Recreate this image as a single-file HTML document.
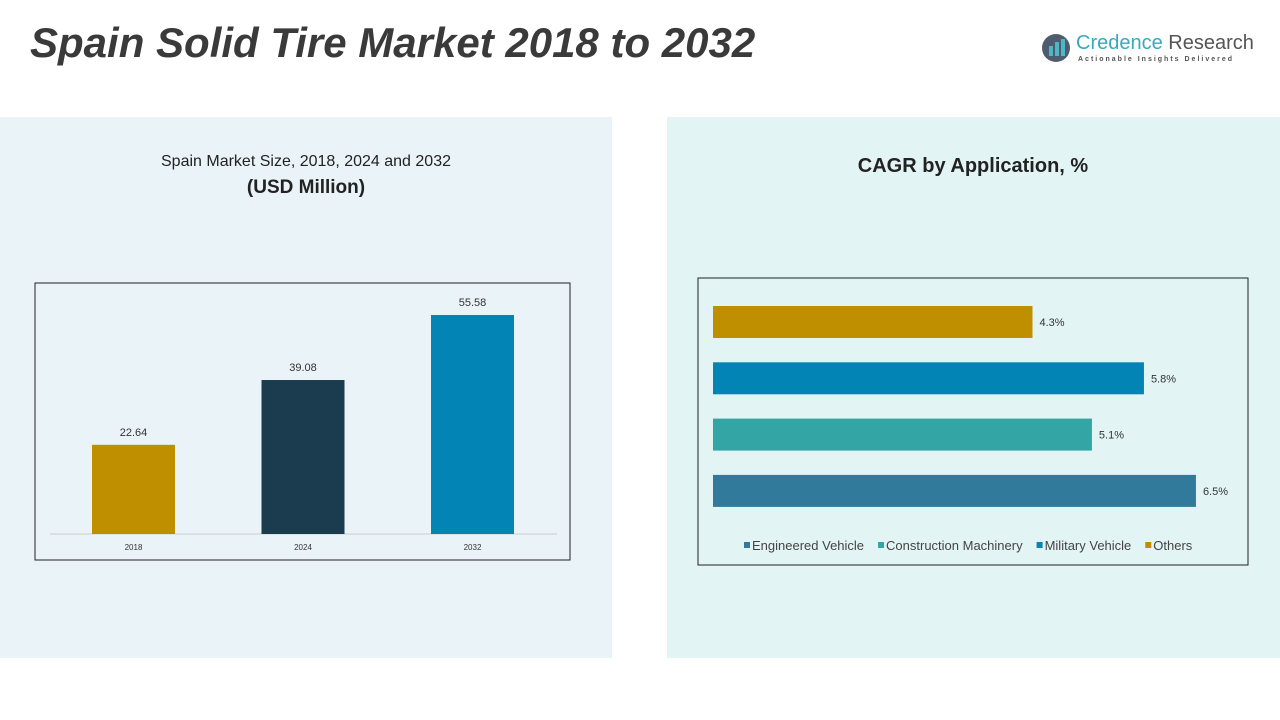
<!DOCTYPE html>
<html><head><meta charset="utf-8"><style>
body{margin:0;width:1280px;height:720px;background:#fff;position:relative;overflow:hidden;font-family:"Liberation Sans",sans-serif}
.abs{position:absolute}
</style></head><body>
<div class="abs" style="left:30px;top:19px;font-size:42px;font-weight:bold;font-style:italic;color:#3a3a3a">Spain Solid Tire Market 2018 to 2032</div>
<div class="abs" style="left:1040px;top:32px;width:215px;height:36px">
 <svg width="32" height="32" style="position:absolute;left:0;top:0"><circle cx="16" cy="16" r="14" fill="#4d5d6e"/><rect x="9" y="14" width="4" height="10" fill="#4fb6c8"/><rect x="15" y="10" width="4" height="14" fill="#4fb6c8"/><rect x="21" y="7" width="4" height="17" fill="#4fb6c8"/></svg>
 <div class="abs" style="left:36px;top:0;font-size:20px;color:#3aa8bd;white-space:nowrap">Credence <span style="color:#555">Research</span></div>
 <div class="abs" style="left:38px;top:24px;font-size:7px;letter-spacing:2px;color:#555;white-space:nowrap;font-weight:bold">Actionable Insights Delivered</div>
</div>
<div class="abs" style="left:0;top:117px;width:612px;height:541px;background:#eaf3f8"></div>
<div class="abs" style="left:667px;top:117px;width:613px;height:541px;background:#e3f4f5"></div>
<div class="abs" style="left:0;width:612px;top:153px;text-align:center;font-size:16px;color:#222">Spain Market Size, 2018, 2024 and 2032</div>
<div class="abs" style="left:0;width:612px;top:177px;text-align:center;font-size:19px;font-weight:bold;color:#222">(USD Million)</div>
<div class="abs" style="left:700px;width:546px;top:155px;text-align:center;font-size:20px;font-weight:bold;color:#222">CAGR by Application, %</div>
<svg class="abs" style="left:0;top:0" width="1280" height="720" id="svg">
<rect x="35" y="283" width="535" height="277" fill="none" stroke="#222" stroke-width="1"/>
<rect x="698" y="278" width="550" height="287" fill="none" stroke="#222" stroke-width="1"/>
<line x1="50" y1="534" x2="557" y2="534" stroke="#ccc"/>
<g id="g1"></g><g id="g2"></g>
</svg>
<script>
const years=["2018","2024","2032"];
const sizes=[22.64,39.08,55.58];
const yearColors=["#bf8f00","#1a3c4e","#0284b4"];
const apps=["Others","Military Vehicle","Construction Machinery","Engineered Vehicle"];
const cagr=[4.3,5.8,5.1,6.5];
const appColors=["#bf8f00","#0284b4","#33a5a5","#317a9b"];
const legendOrder=["Engineered Vehicle","Construction Machinery","Military Vehicle","Others"];
const NS="http://www.w3.org/2000/svg";
function mk(t,a,p){const e=document.createElementNS(NS,t);for(const k in a)e.setAttribute(k,a[k]);p.appendChild(e);return e;}
const g1=document.getElementById('g1'),g2=document.getElementById('g2');
const yS=v=>534-v*3.94, xC=i=>133.5+i*169.5;
years.forEach((y,i)=>{
 const r=mk('rect',{x:xC(i)-41.5,y:yS(sizes[i]),width:83,height:534-yS(sizes[i]),fill:yearColors[i]},g1);
 
 
 const t=mk('text',{x:xC(i),y:yS(sizes[i])-9,'text-anchor':'middle','font-size':11,fill:'#333'},g1);t.textContent=sizes[i].toFixed(2);
 
 
 const l=mk('text',{x:xC(i),y:550,'text-anchor':'middle','font-size':8,fill:'#333'},g1);l.textContent=y;
 
 
});
const xS=v=>713+v*74.3, yB=i=>306+i*56.3;
apps.forEach((a,i)=>{
 const r=mk('rect',{x:713,y:yB(i),width:xS(cagr[i])-713,height:32,fill:appColors[i]},g2);
 
 
 const t=mk('text',{x:xS(cagr[i])+7,y:yB(i)+20,'font-size':11,fill:'#333'},g2);t.textContent=cagr[i]+'%';
 
 
});
let lx=744;
legendOrder.forEach(n=>{
 const c=appColors[apps.indexOf(n)];
 const s=mk('rect',{x:lx,y:542,width:6,height:6,fill:c},g2);
 
 
 const t=mk('text',{x:lx+8,y:550,'font-size':13,fill:'#444'},g2);t.textContent=n;
 
 
 lx+=t.getComputedTextLength()+22;
});
</script>
</body></html>
